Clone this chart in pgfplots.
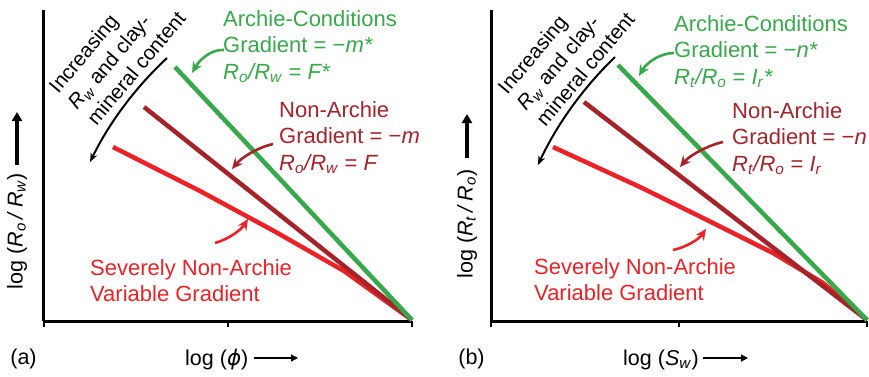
\documentclass[border=0pt]{standalone}
\usepackage{fontspec}
\setmainfont{Liberation Sans}
\newfontfamily\dejavu{DejaVu Sans}
\usepackage{pgfplots}
\pgfplotsset{compat=1.18}
\usetikzlibrary{arrows.meta}
\definecolor{cgreen}{RGB}{54,169,74}
\definecolor{cdred}{RGB}{166,35,42}
\definecolor{cred}{RGB}{236,34,39}
\newcommand{\sub}[1]{\textsubscript{\textit{#1}}}
\pgfplotsset{panel/.style={
  scale only axis, height=311pt, ymin=0, ymax=311, xmin=0,
  axis x line=bottom, axis y line=left,
  axis line style={-, line width=3pt, black},
  xtick align=outside, ytick=\empty, xticklabels={},
  major tick length=6pt,
  every tick/.style={black, line width=1.5pt},
  clip=false,
}}
\tikzset{
  big/.style={font=\fontsize{22}{26.5}\selectfont, inner sep=0pt, anchor=base west},
  ann/.style={line width=2.6pt, -{Stealth[length=11pt,width=10pt]}},
}
\begin{document}
\begin{tikzpicture}
\useasboundingbox (-44pt,-55pt) rectangle (825pt,321pt);
% ---------------- panel (a)
\begin{axis}[panel, width=368pt, xmax=368, xtick={0,184,368}, at={(0pt,0pt)}, anchor=south west]
\addplot[cred, line width=4.5pt] coordinates {(69,174) (156,130) (230,90) (300,50) (368,1)};
\addplot[cdred, line width=4.5pt] coordinates {(100,214) (368,1)};
\addplot[cgreen, line width=4.5pt] coordinates {(131,254) (368,1)};
% texts
\node[big, text=cgreen] at (axis cs:179,295) {Archie-Conditions};
\node[big, text=cgreen] at (axis cs:179,268.5) {Gradient = −\textit{m*}};
\node[big, text=cgreen] at (axis cs:179,242) {\textit{R}\sub{o}\textit{/R}\sub{w} = \textit{F*}};
\node[big, text=cdred] at (axis cs:235,204) {Non-Archie};
\node[big, text=cdred] at (axis cs:235,177.5) {Gradient = −\textit{m}};
\node[big, text=cdred] at (axis cs:235,151) {\textit{R}\sub{o}\textit{/R}\sub{w} = \textit{F}};
\node[big, text=cred] at (axis cs:46,46) {Severely Non-Archie};
\node[big, text=cred] at (axis cs:46,19.5) {Variable Gradient};
% arrows
\draw[ann, cgreen] (axis cs:180,271) .. controls (axis cs:168,272) and (axis cs:156,262) .. (axis cs:148,248);
\draw[ann, cdred] (axis cs:229,177) .. controls (axis cs:215,174) and (axis cs:198,164) .. (axis cs:188,152);
\draw[ann, cred] (axis cs:171,78) .. controls (axis cs:185,82) and (axis cs:197,91) .. (axis cs:204,102);
\draw[line width=2pt, -{Stealth[length=9pt,width=7pt]}] (axis cs:123,263) arc[start angle=133, end angle=154, radius=355pt];
\node[rotate=50, align=left, font=\fontsize{20.5}{25}\selectfont, inner sep=0pt] at (axis cs:73,269)
  {Increasing\\\textit{R}\sub{w} and clay-\\mineral content};
% axis labels
\node[rotate=90, font=\fontsize{21.5}{24}\selectfont, inner sep=0pt] at (axis cs:-27,90)
  {log (\textit{R}\sub{o}\,\textit{/}\,\textit{R}\sub{w})};
\draw[line width=3.5pt, -{Triangle[length=9pt,width=10pt]}] (axis cs:-27,156) -- (axis cs:-27,209);
\node[big, font=\fontsize{21.5}{24}\selectfont] at (axis cs:141,-44) {log ({\dejavu\itshape ϕ})};
\draw[line width=1.3pt, -{Triangle[length=7pt,width=7pt]}] (axis cs:210,-37) -- (axis cs:254,-37);
\node[font=\fontsize{21.5}{24}\selectfont, inner sep=0pt, anchor=base] at (axis cs:-20.5,-43) {(a)};
\end{axis}
% ---------------- panel (b)
\begin{axis}[panel, width=376pt, xmax=376, xtick={0,188,376}, at={(447pt,0pt)}, anchor=south west]
\addplot[cred, line width=4.5pt] coordinates {(62,174) (149,134) (216,101) (282,68) (332,38) (376,1)};
\addplot[cdred, line width=4.5pt] coordinates {(93,219) (376,1)};
\addplot[cgreen, line width=4.5pt] coordinates {(127,256) (376,1)};
\node[big, text=cgreen] at (axis cs:183,290) {Archie-Conditions};
\node[big, text=cgreen] at (axis cs:183,263.5) {Gradient = −\textit{n*}};
\node[big, text=cgreen] at (axis cs:183,237) {\textit{R}\sub{t}\textit{/R}\sub{o} = \textit{I}\sub{r}\textit{*}};
\node[big, text=cdred] at (axis cs:241,203) {Non-Archie};
\node[big, text=cdred] at (axis cs:241,176.5) {Gradient = −\textit{n}};
\node[big, text=cdred] at (axis cs:241,150) {\textit{R}\sub{t}\textit{/R}\sub{o} = \textit{I}\sub{r}};
\node[big, text=cred] at (axis cs:43,47) {Severely Non-Archie};
\node[big, text=cred] at (axis cs:43,20.5) {Variable Gradient};
\draw[ann, cgreen] (axis cs:183,268) .. controls (axis cs:170,268) and (axis cs:156,259) .. (axis cs:148,245);
\draw[ann, cdred] (axis cs:232,179) .. controls (axis cs:218,176) and (axis cs:199,166) .. (axis cs:189,154);
\draw[ann, cred] (axis cs:182,71) .. controls (axis cs:196,74) and (axis cs:208,82) .. (axis cs:215,92);
\draw[line width=2pt, -{Stealth[length=9pt,width=7pt]}] (axis cs:124,264) arc[start angle=134, end angle=155, radius=364pt];
\node[rotate=50, align=left, font=\fontsize{20.5}{25}\selectfont, inner sep=0pt] at (axis cs:75,268)
  {Increasing\\\textit{R}\sub{w} and clay-\\mineral content};
\node[rotate=90, font=\fontsize{21.5}{24}\selectfont, inner sep=0pt] at (axis cs:-24,97)
  {log (\textit{R}\sub{t}\,\textit{/}\,\textit{R}\sub{o})};
\draw[line width=3.5pt, -{Triangle[length=9pt,width=10pt]}] (axis cs:-24,163) -- (axis cs:-24,207);
\node[big, font=\fontsize{21.5}{24}\selectfont] at (axis cs:132,-44) {log (\textit{S}\sub{w})};
\draw[line width=1.3pt, -{Triangle[length=7pt,width=7pt]}] (axis cs:212,-37) -- (axis cs:257,-37);
\node[font=\fontsize{21.5}{24}\selectfont, inner sep=0pt, anchor=base] at (axis cs:-19.5,-43) {(b)};
\end{axis}
\end{tikzpicture}
\end{document}
